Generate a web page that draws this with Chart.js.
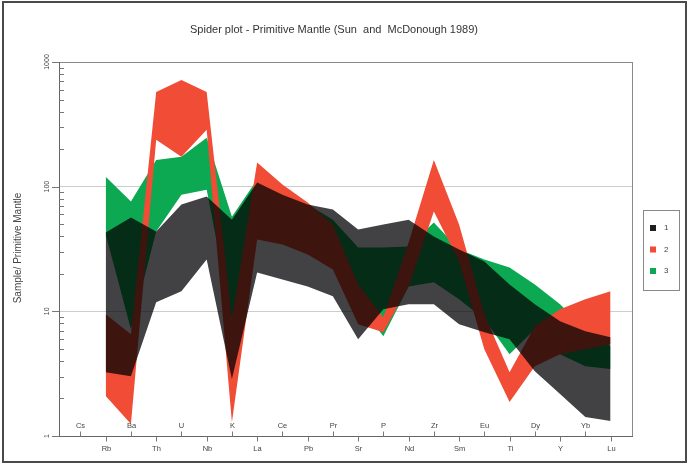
<!DOCTYPE html>
<html>
<head>
<meta charset="utf-8">
<script src="https://cdn.jsdelivr.net/npm/chart.js@4.4.1/dist/chart.umd.min.js"></script>
<style>
  html, body { margin: 0; padding: 0; background: #fff; }
  #wrap { position: relative; width: 689px; height: 464px; }
  canvas { display: block; }
</style>
</head>
<body>
<div id="wrap"><canvas id="c" width="689" height="464"></canvas></div>
<script>
// Element order along the spider diagram (normalised to Primitive Mantle)
const elements = ['Cs','Rb','Ba','Th','U','Nb','K','La','Ce','Pb','Pr','Sr','P','Nd','Zr','Sm','Eu','Ti','Dy','Y','Yb','Lu'];

// Group 1: upper / lower envelope
const group1High = [null, 42.9, 56.5, 43.6, 71.8, 83.2, 54.4, 108, 86.3, 71.8, 65.5, 45.3, 49.7, 54.4, 39.8, 31.3, 25.1, 16.4, 11.4, 8.32, 6.92, 6.19];
const group1Low  = [null, 3.25, 3.02, 11.8, 14.5, 26.1, 2.86, 20.5, 18.0, 15.8, 13.2, 5.97, 10.4, 11.4, 11.4, 7.87, 6.79, 5.97, 3.31, 2.17, 1.42, 1.32];

// Group 2: upper / lower envelope
const group2High = [null, 9.46, 6.55, 575, 718, 575, 8.63, 156, 104, 74.5, 49.7, 16.4, 8.95, 35.6, 164, 49.7, 9.46, 3.25, 7.59, 10.4, 12.5, 14.5];
const group2Low  = [null, 2.09, 1.25, 238, 174, 286, 1.29, 37.7, 34.4, 28.6, 21.7, 7.87, 6.79, 15.8, 63.1, 25.1, 4.97, 1.87, 3.63, 4.53, 4.97, 5.45];

// Group 3: upper / lower envelope
const group3High = [null, 120, 75.9, 164, 174, 247, 57.5, 114, 94.6, 71.8, 54.4, 32.5, 32.5, 33.1, 51.5, 31.3, 26.1, 22.5, 16.4, 11.4, 7.18, 5.25];
const group3Low  = [null, 41.3, 7.18, 43.6, 86.3, 94.6, 8.63, 41.3, 37.7, 31.3, 25.1, 11.4, 6.31, 15.8, 17.1, 12.5, 8.63, 4.53, 7.18, 4.53, 3.63, 3.44];

const groupNames = ['1', '2', '3'];
const yTickValues = [1, 10, 100, 1000];
const yTickLabels = ['1', '10', '100', '1000'];

const COL_DARK  = 'rgb(66,66,68)';
const COL_RED   = 'rgb(240,76,54)';
const COL_GREEN = 'rgb(12,168,82)';

function toPoints(arr) {
  const pts = [];
  arr.forEach((v, i) => { if (v !== null) pts.push({ x: i, y: v }); });
  return pts;
}

function band(name, hi, lo, color) {
  return [
    { label: name, data: toPoints(hi), fill: '+1', backgroundColor: color, borderWidth: 0, pointRadius: 0, tension: 0 },
    { label: name + '_low', data: toPoints(lo), fill: false, borderWidth: 0, pointRadius: 0, tension: 0 }
  ];
}

// Dark band is composited with "multiply" so overlaps read as darkened red / green
const blendPlugin = {
  id: 'blend',
  afterDatasetDraw(chart, args) {
    if (args.index === 1) chart.ctx.globalCompositeOperation = 'multiply';
    if (args.index === 0) chart.ctx.globalCompositeOperation = 'source-over';
  }
};

const decorPlugin = {
  id: 'decor',
  afterDraw(chart) {
    const ctx = chart.ctx;
    const xs = chart.scales.x, ys = chart.scales.y;
    const area = chart.chartArea;
    ctx.save();
    ctx.globalCompositeOperation = 'source-over';

    // right frame line
    ctx.strokeStyle = '#8a8a8a';
    ctx.lineWidth = 1;
    ctx.beginPath();
    ctx.moveTo(Math.round(area.right) + 0.5, area.top);
    ctx.lineTo(Math.round(area.right) + 0.5, area.bottom);
    ctx.stroke();

    // title
    ctx.fillStyle = '#333';
    ctx.font = '11px "Liberation Sans", Arial, sans-serif';
    ctx.textAlign = 'center';
    ctx.textBaseline = 'middle';
    ctx.fillText('Spider plot - Primitive Mantle (Sun  and  McDonough 1989)', 334, 30);

    // y-axis title
    ctx.save();
    ctx.translate(18, 248);
    ctx.rotate(-Math.PI / 2);
    ctx.font = '10px "Liberation Sans", Arial, sans-serif';
    ctx.fillStyle = '#444';
    ctx.fillText('Sample/ Primitive Mantle', 0, 0);
    ctx.restore();

    // y tick labels and major ticks
    ctx.strokeStyle = '#777';
    ctx.fillStyle = '#444';
    ctx.font = '7px "Liberation Sans", Arial, sans-serif';
    yTickValues.forEach((v, k) => {
      const py = ys.getPixelForValue(v);
      ctx.beginPath();
      ctx.moveTo(area.left - 7, Math.round(py) + 0.5);
      ctx.lineTo(area.left, Math.round(py) + 0.5);
      ctx.stroke();
      ctx.save();
      ctx.translate(area.left - 12, py);
      ctx.rotate(-Math.PI / 2);
      ctx.textAlign = 'center';
      ctx.textBaseline = 'middle';
      ctx.fillText(yTickLabels[k], 0, 0);
      ctx.restore();
    });
    // minor ticks inside the axis
    for (let d = 1; d < 1000; d *= 10) {
      for (let m = 2; m <= 9; m++) {
        const py = Math.round(ys.getPixelForValue(d * m)) + 0.5;
        ctx.beginPath();
        ctx.moveTo(area.left, py);
        ctx.lineTo(area.left + 5, py);
        ctx.stroke();
      }
    }

    // element labels, alternating above / below the axis
    ctx.font = '7.5px "Liberation Sans", Arial, sans-serif';
    ctx.textAlign = 'center';
    ctx.textBaseline = 'middle';
    const by = Math.round(area.bottom) + 0.5;
    elements.forEach((el, i) => {
      const px = Math.round(xs.getPixelForValue(i)) + 0.5;
      ctx.beginPath();
      if (i % 2 === 0) {
        ctx.moveTo(px, by); ctx.lineTo(px, by - 5);
        ctx.stroke();
        ctx.fillText(el, px, by - 11);
      } else {
        ctx.moveTo(px, by); ctx.lineTo(px, by + 5);
        ctx.stroke();
        ctx.fillText(el, px, by + 12);
      }
    });

    // legend
    const lx = 643, ly = 210, lw = 36, lh = 80;
    ctx.strokeStyle = '#888';
    ctx.strokeRect(lx + 0.5, ly + 0.5, lw, lh);
    const legendColors = [COL_DARK, COL_RED, COL_GREEN];
    ctx.font = '8px "Liberation Sans", Arial, sans-serif';
    ctx.textAlign = 'left';
    groupNames.forEach((n, k) => {
      const cy = 228 + k * 21.5;
      ctx.fillStyle = k === 0 ? '#1e1e1e' : legendColors[k];
      ctx.fillRect(650, cy - 3, 6, 6);
      ctx.fillStyle = '#444';
      ctx.fillText(n, 664, cy);
    });

    // outer frame
    ctx.strokeStyle = '#4a4a4a';
    ctx.lineWidth = 2;
    ctx.strokeRect(3, 2, 683, 460);
    ctx.restore();
  }
};

const datasets = [
  ...band(groupNames[0], group1High, group1Low, COL_DARK),
  ...band(groupNames[1], group2High, group2Low, COL_RED),
  ...band(groupNames[2], group3High, group3Low, COL_GREEN)
];

new Chart(document.getElementById('c'), {
  type: 'line',
  data: { datasets },
  options: {
    responsive: false,
    animation: false,
    devicePixelRatio: 1,
    layout: { padding: { left: 59, top: 62, right: 57, bottom: 28 } },
    plugins: {
      legend: { display: false },
      title: { display: false },
      tooltip: { enabled: false },
      filler: { drawTime: 'beforeDatasetDraw' }
    },
    scales: {
      x: {
        type: 'linear', min: -0.85, max: 21.85,
        grid: { display: false, drawTicks: false },
        ticks: { display: false },
        border: { display: true, color: '#666', width: 1 }
      },
      y: {
        type: 'logarithmic', min: 1, max: 1000,
        afterBuildTicks: (s) => { s.ticks = yTickValues.map(v => ({ value: v })); },
        grid: {
          drawTicks: false,
          color: (c) => (c.tick && c.tick.value === 1000) ? '#8a8a8a' : '#cdcdcd',
          lineWidth: 1
        },
        ticks: { display: false },
        border: { display: true, color: '#666', width: 1 }
      }
    }
  },
  plugins: [blendPlugin, decorPlugin]
});
</script>
</body>
</html>
